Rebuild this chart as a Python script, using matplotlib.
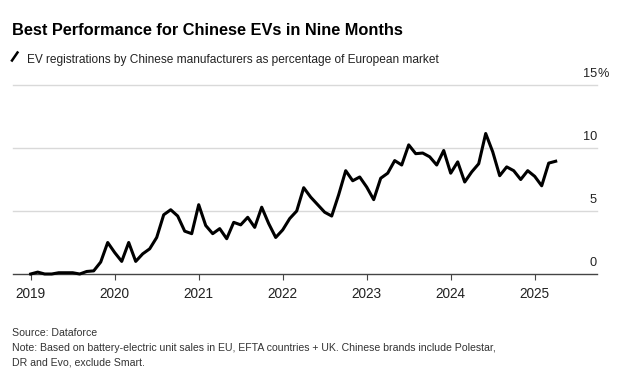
import matplotlib.pyplot as plt
import matplotlib.transforms as mtransforms
from matplotlib.lines import Line2D

# monthly share (%) of EV registrations by Chinese makers, Jan 2019 .. Apr 2025
share_2019 = [0.0, 0.15, 0.0, 0.0, 0.1, 0.1, 0.1, 0.0, 0.2, 0.25, 0.95, 2.5]
share_2020 = [1.7, 1.0, 2.5, 1.0, 1.6, 2.0, 2.9, 4.7, 5.1, 4.6, 3.4, 3.2]
share_2021 = [5.5, 3.85, 3.2, 3.6, 2.8, 4.1, 3.9, 4.5, 3.7, 5.3, 4.0, 2.9]
share_2022 = [3.5, 4.4, 5.0, 6.85, 6.1, 5.5, 4.9, 4.6, 6.3, 8.2, 7.4, 7.7]
share_2023 = [6.9, 5.9, 7.6, 8.0, 9.0, 8.65, 10.25, 9.55, 9.6, 9.3, 8.65, 9.8]
share_2024 = [8.0, 8.9, 7.3, 8.1, 8.75, 11.15, 9.7, 7.8, 8.5, 8.2, 7.5, 8.2]
share_2025 = [7.75, 7.0, 8.8, 8.95]
share = share_2019 + share_2020 + share_2021 + share_2022 + share_2023 + share_2024 + share_2025

years = ["2019", "2020", "2021", "2022", "2023", "2024", "2025"]
y_ticks = [0, 5, 10, 15]

title = "Best Performance for Chinese EVs in Nine Months"
subtitle = "EV registrations by Chinese manufacturers as percentage of European market"
source = "Source: Dataforce"
note = ("Note: Based on battery-electric unit sales in EU, EFTA countries + UK. Chinese brands include Polestar,\n"
        "DR and Evo, exclude Smart.")

plt.rcParams["font.family"] = ["Liberation Sans", "DejaVu Sans"]

W, H = 620, 379
fig = plt.figure(figsize=(W / 100, H / 100), dpi=100)
ax = fig.add_axes([13 / W, 1 - 274 / H, (597 - 13) / W, (274 - 85) / H])

months = list(range(len(share)))
ax.plot(months, share, color="black", lw=2.2, clip_on=False, zorder=3)

ax.set_xlim(-2.53, 80.9)
ax.set_ylim(0, 15)

for v in y_ticks[1:]:
    ax.axhline(v, color="#d9d9d9", lw=1, zorder=1, clip_on=False)

for s in ["top", "right", "left"]:
    ax.spines[s].set_visible(False)
ax.spines["bottom"].set_color("#444444")
ax.spines["bottom"].set_linewidth(1)

ax.set_yticks([])
ax.set_xticks([12 * i for i in range(len(years))], labels=years)
ax.tick_params(axis="x", length=4, width=0.8, color="#444444", pad=5.5,
               labelsize=9.8, labelcolor="#222222")

# y labels sit above their gridlines at the right edge
offset = mtransforms.ScaledTranslation(0, 11 / 100, fig.dpi_scale_trans)
trans = mtransforms.blended_transform_factory(ax.transAxes, ax.transData) + offset
for v in y_ticks:
    ax.text(1.0, v, str(v), transform=trans, ha="right", va="center",
            fontsize=9.2, color="#222222")
    if v == y_ticks[-1]:
        ax.text(1.0, v, "%", transform=trans, ha="left", va="center",
                fontsize=9.2, color="#222222")

fig.text(12 / W, 1 - 35 / H, title, fontsize=11.8, weight="bold",
         va="baseline", color="black")
fig.add_artist(Line2D([12 / W, 17.5 / W], [1 - 60.5 / H, 1 - 52.5 / H],
                      color="black", lw=1.8, transform=fig.transFigure))
fig.text(27 / W, 1 - 62.5 / H, subtitle, fontsize=8.55,
         va="baseline", color="#222222")

fig.text(12 / W, 1 - 336 / H, source, fontsize=7.6,
         va="baseline", color="#333333")
fig.text(12 / W, 1 - 351 / H, note.split("\n")[0], fontsize=7.6,
         va="baseline", color="#333333")
fig.text(12 / W, 1 - 365.5 / H, note.split("\n")[1], fontsize=7.6,
         va="baseline", color="#333333")

fig.savefig("out.png", dpi=100)
